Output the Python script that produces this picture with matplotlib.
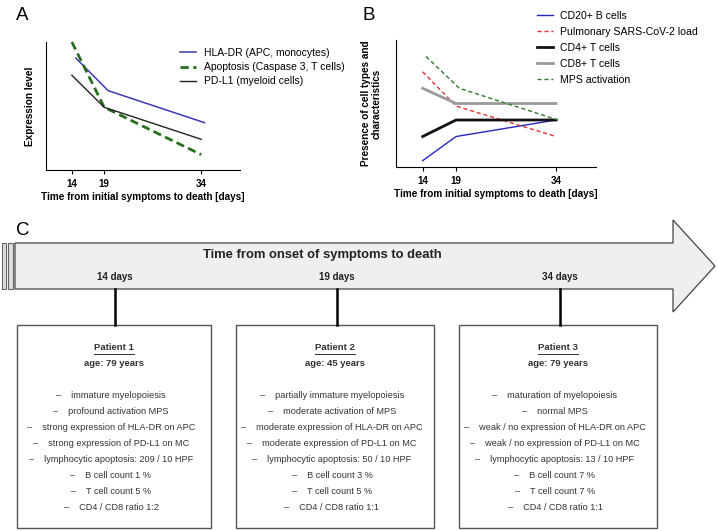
import numpy as np
import matplotlib.pyplot as plt
from matplotlib.patches import Polygon, Rectangle

plt.rcParams['font.family'] = ['Liberation Sans', 'DejaVu Sans']

# ---- data: panel A
days = [14, 19, 34]
hla_x = [14.6, 19.6, 34.5]
hla_dr = [8.75, 6.2, 3.7]
apoptosis = [10.0, 4.9, 1.2]
pd_l1 = [7.4, 4.9, 2.4]

# ---- data: panel B
cd20 = [0.5, 2.4, 3.7]
sars_load = [7.5, 4.8, 2.4]
cd4 = [2.4, 3.7, 3.7]
cd8 = [6.2, 5.0, 5.0]
mps_x = [14.5, 19.5, 34.3]
mps = [8.7, 6.2, 3.7]

# ---- data: panel C
time_labels = ['14 days', '19 days', '34 days']
patients = ['Patient 1', 'Patient 2', 'Patient 3']
ages = ['age: 79 years', 'age: 45 years', 'age: 79 years']
findings = [
    ['immature myelopoiesis', 'profound activation MPS',
     'strong expression of HLA-DR on APC', 'strong expression of PD-L1 on MC',
     'lymphocytic apoptosis: 209 / 10 HPF', 'B cell count 1 %',
     'T cell count 5 %', 'CD4 / CD8 ratio 1:2'],
    ['partially immature myelopoiesis', 'moderate activation of MPS',
     'moderate expression of HLA-DR on APC', 'moderate expression of PD-L1 on MC',
     'lymphocytic apoptosis: 50 / 10 HPF', 'B cell count 3 %',
     'T cell count 5 %', 'CD4 / CD8 ratio 1:1'],
    ['maturation of myelopoiesis', 'normal MPS',
     'weak / no expression of HLA-DR on APC', 'weak / no expression of PD-L1 on MC',
     'lymphocytic apoptosis: 13 / 10 HPF', 'B cell count 7 %',
     'T cell count 7 %', 'CD4 / CD8 ratio 1:1'],
]

W, H = 719, 531
fig = plt.figure(figsize=(W / 100, H / 100), dpi=100)


def px_axes(l, t, r, b):
    return fig.add_axes([l / W, 1 - b / H, (r - l) / W, (b - t) / H])


def style_line_axes(ax):
    ax.set_xlim(10, 40)
    ax.set_ylim(0, 10)
    ax.spines['top'].set_visible(False)
    ax.spines['right'].set_visible(False)
    ax.set_xticks(days)
    ax.set_xticklabels([str(d) for d in days], fontweight='bold', fontsize=7)
    ax.set_yticks([])
    ax.tick_params(axis='x', length=3, width=0.8, pad=3.5)
    ax.set_xlabel('Time from initial symptoms to death [days]', fontweight='bold',
                  fontsize=7.2, labelpad=2)


# Panel A
axA = px_axes(46, 42, 240, 170)
style_line_axes(axA)
axA.plot(hla_x, hla_dr, color='#3a3ab0', lw=1.1, label='HLA-DR (APC, monocytes)', clip_on=False)
axA.plot(days, apoptosis, color='#2a6e22', lw=2, ls=(0, (3, 1.6)),
         label='Apoptosis (Caspase 3, T cells)', clip_on=False)
axA.plot(days, pd_l1, color='#222222', lw=1, label='PD-L1 (myeloid cells)', clip_on=False)
axA.set_ylabel('Expression level', fontweight='bold', fontsize=7.2, labelpad=8)
axA.legend(loc='upper left', bbox_to_anchor=(0.67, 0.985), frameon=False, fontsize=7.5,
           handlelength=1.5, handletextpad=0.8, labelspacing=0.4, borderaxespad=0)
fig.text(16 / W, 1 - 20 / H, 'A', fontsize=13.5)

# Panel B
axB = px_axes(396, 40, 596, 167)
style_line_axes(axB)
axB.plot(days, cd20, color='#2626c0', lw=1, label='CD20+ B cells')
axB.plot(days, sars_load, color='#e03434', lw=1, ls=(0, (3, 2)), label='Pulmonary SARS-CoV-2 load')
axB.plot(days, cd4, color='#111111', lw=2, label='CD4+ T cells')
axB.plot(days, cd8, color='#9a9a9a', lw=2, label='CD8+ T cells')
axB.plot(mps_x, mps, color='#2e7d2e', lw=1, ls=(0, (3, 2)), label='MPS activation')
axB.set_ylabel('Presence of cell types and\ncharacteristics', fontweight='bold', fontsize=7.2,
               labelpad=10, linespacing=1.1)
axB.legend(loc='upper left', bbox_to_anchor=(0.685, 1.265), frameon=False, fontsize=7.6,
           handlelength=1.45, handletextpad=0.7, labelspacing=0.58, borderaxespad=0)
fig.text(362 / W, 1 - 20 / H, 'B', fontsize=13.5)

# Panel C (drawn in pixel coordinates)
axC = fig.add_axes([0, 0, 1, 1], zorder=-1)
axC.set_xlim(0, W)
axC.set_ylim(H, 0)
axC.axis('off')

fig.text(16 / W, 1 - 235 / H, 'C', fontsize=13.5)

arrow = [(15, 243), (673, 243), (673, 220), (715, 266), (673, 312), (673, 289), (15, 289)]
axC.add_patch(Polygon(arrow, closed=True, facecolor='#efefef', edgecolor='#444444', lw=0.9))
axC.add_patch(Rectangle((2, 243), 4, 46, facecolor='#dcdcdc', edgecolor='#666666', lw=0.8))
axC.add_patch(Rectangle((8, 243), 5, 46, facecolor='#dcdcdc', edgecolor='#666666', lw=0.8))
axC.text(322, 255, 'Time from onset of symptoms to death', ha='center', va='center',
         fontsize=9.4, fontweight='bold', color='#222222')

box_left = [17, 236, 459]
box_right = [211, 434, 657]
conn_x = [115, 337, 560]
box_top, box_bottom = 325, 528

for i in range(3):
    cx = conn_x[i]
    axC.text(cx, 277, time_labels[i], ha='center', va='center', fontsize=7,
             fontweight='bold', color='#222222')
    axC.plot([cx, cx], [289, box_top], color='black', lw=1.8)
    axC.add_patch(Rectangle((box_left[i], box_top), box_right[i] - box_left[i],
                            box_bottom - box_top, facecolor='white', edgecolor='#555555', lw=1))
    mid = (box_left[i] + box_right[i]) / 2
    t = axC.text(mid, 347, patients[i], ha='center', va='center', fontsize=6.8,
                 fontweight='bold', color='#333333')
    axC.text(mid, 363, ages[i], ha='center', va='center', fontsize=6.8,
             fontweight='bold', color='#333333')
    for j, item in enumerate(findings[i]):
        axC.text(mid - 3, 395 + 16.1 * j, '\u2013    ' + item, ha='center', va='center',
                 fontsize=6.6, color='#333333')
    # underline for patient title
    fig.canvas.draw()
    bb = t.get_window_extent()
    axC.plot([bb.x0, bb.x1], [354, 354], color='#333333', lw=0.7)

fig.savefig('out.png', dpi=100)
